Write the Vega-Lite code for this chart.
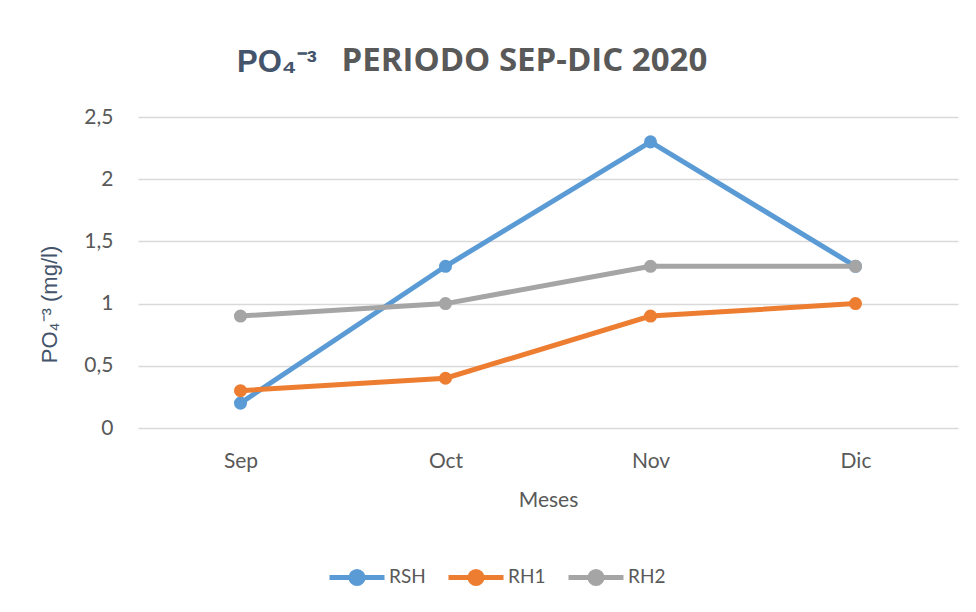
{
  "$schema": "https://vega.github.io/schema/vega-lite/v6.json",
  "width": 820,
  "height": 311,
  "autosize": {"type": "none"},
  "padding": {"left": 138, "top": 117, "right": 18, "bottom": 184},
  "background": "white",
  "title": {
    "text": "PO₄⁻³",
    "subtitle": "\u200b\u2003\u2003\u2003\u2009PERIODO SEP-DIC 2020",
    "anchor": "start",
    "frame": "group",
    "dx": 99,
    "offset": 25,
    "font": "Liberation Sans",
    "fontSize": 31,
    "fontWeight": "bold",
    "color": "#44546A",
    "subtitleFont": "Open Sans",
    "subtitleFontSize": 33,
    "subtitleFontWeight": "bold",
    "subtitleColor": "#595959",
    "subtitlePadding": -34
  },
  "data": {
    "values": [
      {"mes": "Sep", "serie": "RSH", "valor": 0.2},
      {"mes": "Oct", "serie": "RSH", "valor": 1.3},
      {"mes": "Nov", "serie": "RSH", "valor": 2.3},
      {"mes": "Dic", "serie": "RSH", "valor": 1.3},
      {"mes": "Sep", "serie": "RH1", "valor": 0.3},
      {"mes": "Oct", "serie": "RH1", "valor": 0.4},
      {"mes": "Nov", "serie": "RH1", "valor": 0.9},
      {"mes": "Dic", "serie": "RH1", "valor": 1.0},
      {"mes": "Sep", "serie": "RH2", "valor": 0.9},
      {"mes": "Oct", "serie": "RH2", "valor": 1.0},
      {"mes": "Nov", "serie": "RH2", "valor": 1.3},
      {"mes": "Dic", "serie": "RH2", "valor": 1.3}
    ]
  },
  "encoding": {
    "x": {
      "field": "mes",
      "type": "ordinal",
      "sort": ["Sep", "Oct", "Nov", "Dic"],
      "scale": {"type": "point", "padding": 0.5},
      "axis": {
        "title": "Meses",
        "labelAngle": 0,
        "ticks": false,
        "domain": false,
        "grid": false,
        "labelPadding": 22,
        "labelFont": "Lato",
        "labelFontSize": 21,
        "labelColor": "#595959",
        "titleFont": "Lato",
        "titleFontSize": 21,
        "titleFontWeight": "normal",
        "titleColor": "#595959",
        "titlePadding": 18
      }
    },
    "y": {
      "field": "valor",
      "type": "quantitative",
      "scale": {"domain": [0, 2.5], "nice": false},
      "axis": {
        "title": "PO₄⁻³ (mg/l)",
        "values": [0, 0.5, 1, 1.5, 2, 2.5],
        "labelExpr": "replace(toString(datum.value), '.', ',')",
        "ticks": false,
        "domain": false,
        "grid": true,
        "gridColor": "#D9D9D9",
        "gridWidth": 1.5,
        "labelPadding": 25,
        "labelFont": "Lato",
        "labelFontSize": 21,
        "labelColor": "#595959",
        "titleFont": "Liberation Sans",
        "titleFontSize": 22,
        "titleFontWeight": "normal",
        "titleColor": "#44546A",
        "titlePadding": 22,
        "titleY": 187
      }
    },
    "color": {
      "field": "serie",
      "type": "nominal",
      "sort": ["RSH", "RH1", "RH2"],
      "scale": {"domain": ["RSH", "RH1", "RH2"], "range": ["#5B9BD5", "#ED7D31", "#A5A5A5"]},
      "legend": {
        "title": null,
        "orient": "none",
        "legendX": 189,
        "legendY": 430,
        "direction": "horizontal",
        "symbolType": "M-1,0L-0.25,0M0.25,0L1,0M0.22,0A0.22,0.22,0,1,1,-0.22,0A0.22,0.22,0,1,1,0.22,0",
        "symbolSize": 3025,
        "symbolStrokeWidth": 5,
        "labelFont": "Lato",
        "labelFontSize": 19,
        "labelColor": "#595959",
        "labelOffset": 2,
        "columnPadding": 12
      }
    }
  },
  "layer": [
    {"mark": {"type": "line", "strokeWidth": 5}},
    {"mark": {"type": "point", "filled": true, "size": 170, "opacity": 1}}
  ],
  "config": {"view": {"stroke": null}}
}
